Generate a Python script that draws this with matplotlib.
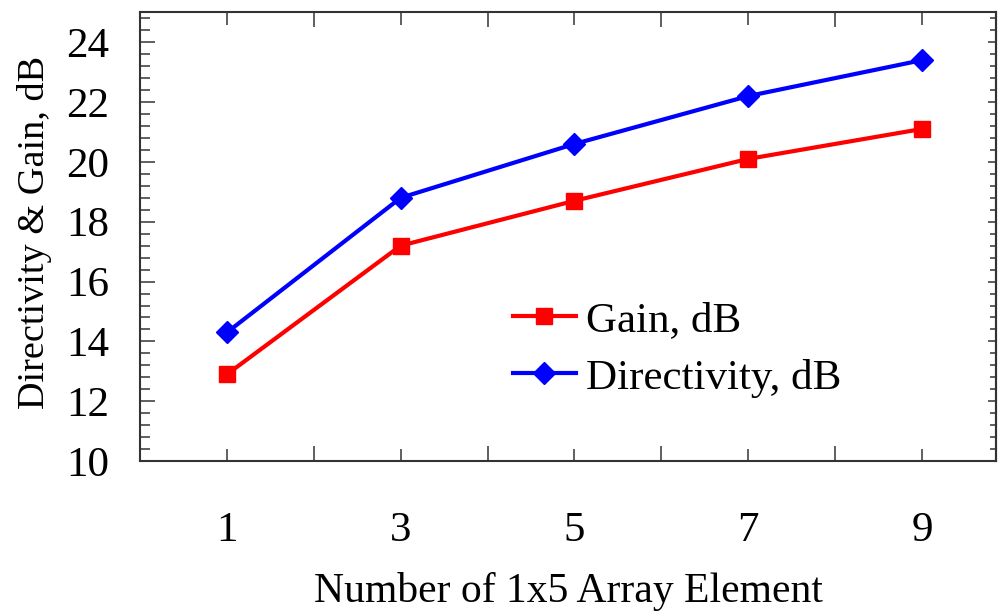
import matplotlib
matplotlib.use("Agg")
import matplotlib.pyplot as plt
from matplotlib.ticker import MultipleLocator, NullFormatter

# number of 1x5 array elements and measured values
elements = [1, 3, 5, 7, 9]
gain_db = [12.9, 17.2, 18.7, 20.1, 21.1]
directivity_db = [14.3, 18.8, 20.6, 22.2, 23.4]

plt.rcParams['font.family'] = ['Liberation Serif', 'DejaVu Serif']
plt.rcParams['font.size'] = 31

fig = plt.figure(figsize=(10.01, 6.14), dpi=100)
ax = fig.add_axes([0.1399, 0.249, 0.855, 0.731])

ax.plot(elements, gain_db, color='#ff0000', lw=3, marker='s', ms=11.5,
        label='Gain, dB')
ax.plot(elements, directivity_db, color='#0000ff', lw=3, marker='D', ms=11,
        label='Directivity, dB')

ax.set_xlim(0, 9.85)
ax.set_ylim(10, 25)
ax.set_xticks(elements)
ax.set_yticks(range(10, 25, 2))
ax.xaxis.set_minor_locator(MultipleLocator(1))
ax.yaxis.set_minor_locator(MultipleLocator(0.4))

for s in ax.spines.values():
    s.set_linewidth(1.5)
    s.set_color('#333333')

ax.tick_params(axis='both', which='both', direction='in', color='#444444',
               width=1.2)
ax.tick_params(axis='x', which='major', length=9, pad=36, top=True)
ax.tick_params(axis='x', which='minor', length=11, top=True)
ax.tick_params(axis='y', which='major', length=11, pad=22)
ax.tick_params(axis='y', which='minor', length=7)

# short ticks on the right-hand frame
right = ax.secondary_yaxis('right')
right.set_yticks(range(10, 25, 2))
right.yaxis.set_minor_locator(MultipleLocator(0.4))
right.yaxis.set_major_formatter(NullFormatter())
right.spines['right'].set_linewidth(1.5)
right.spines['right'].set_color('#333333')
right.tick_params(which='major', direction='in', length=6, width=1.2,
                  color='#444444')
right.tick_params(which='minor', direction='in', length=4, width=1.2,
                  color='#444444')

ax.set_xlabel('Number of 1x5 Array Element', fontsize=30, labelpad=16)
ax.set_ylabel('Directivity & Gain, dB', fontsize=27.5)
ax.yaxis.set_label_coords(-0.103, 0.51)

ax.legend(loc='center left', bbox_to_anchor=(0.436, 0.249), frameon=False,
          handlelength=1.45, handletextpad=0.25, labelspacing=0.42,
          borderaxespad=0, borderpad=0)

fig.savefig('out.png', dpi=100)
